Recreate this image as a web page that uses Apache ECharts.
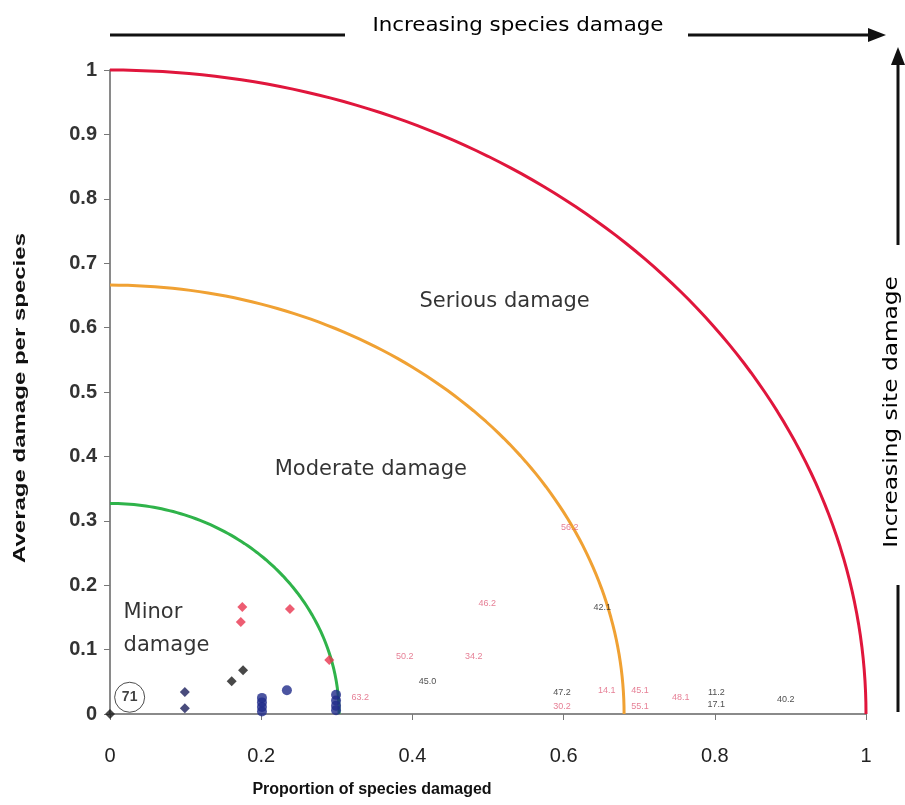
<!DOCTYPE html>
<html>
<head>
<meta charset="utf-8">
<script src="https://cdn.jsdelivr.net/npm/echarts@6/dist/echarts.min.js"></script>
<style>html,body{margin:0;padding:0;background:#fff}#c{width:905px;height:805px}</style>
</head>
<body>
<div id="c"></div>
<script>
// ---- data ----
const arcNames = ['Minor', 'Moderate', 'Serious'];
const arcRadiusX = [0.303, 0.68, 1.0];
const arcRadiusY = [0.327, 0.666, 1.0];
const arcColors = ['#2fb34a', '#f0a133', '#e0163c'];

const redPoints = [[0.175, 0.166], [0.173, 0.143], [0.238, 0.163], [0.29, 0.084]];
const blackPoints = [[0, 0], [0.161, 0.051], [0.176, 0.068]];
const navyPoints = [[0.099, 0.034], [0.099, 0.009]];
const bluePoints = [[0.201, 0.004], [0.201, 0.011], [0.201, 0.018], [0.201, 0.025],
  [0.234, 0.037], [0.299, 0.006], [0.299, 0.013], [0.299, 0.021], [0.299, 0.03]];

const redLabels = [[0.331, 0.026, '63.2'], [0.39, 0.09, '50.2'], [0.481, 0.09, '34.2'],
  [0.499, 0.171, '46.2'], [0.608, 0.29, '56.2'], [0.598, 0.012, '30.2'],
  [0.657, 0.037, '14.1'], [0.701, 0.037, '45.1'], [0.701, 0.012, '55.1'], [0.755, 0.026, '48.1']];
const blackLabels = [[0.42, 0.051, '45.0'], [0.651, 0.166, '42.1'], [0.598, 0.034, '47.2'],
  [0.802, 0.034, '11.2'], [0.802, 0.014, '17.1'], [0.894, 0.022, '40.2']];
const circledLabel = [[0.026, 0.026, '71']];
const regionLabels = [[0.522, 0.64, 'Serious damage'], [0.345, 0.379, 'Moderate damage'],
  [0.018, 0.158, 'Minor'], [0.018, 0.106, 'damage']];

// ---- build ----
function arc(rx, ry) {
  const pts = [];
  for (let i = 0; i <= 90; i++) {
    const a = i * Math.PI / 180;
    pts.push([rx * Math.cos(a), ry * Math.sin(a)]);
  }
  return pts;
}

const series = [];
arcNames.forEach((n, i) => {
  series.push({
    type: 'line', name: n, data: arc(arcRadiusX[i], arcRadiusY[i]),
    showSymbol: false, smooth: false, clip: false,
    lineStyle: {color: arcColors[i], width: 3}, z: 2
  });
});
function scat(data, symbol, color, size) {
  return {type: 'scatter', data: data, symbol: symbol, symbolSize: size, clip: false,
    itemStyle: {color: color}, z: 5};
}
series.push(scat(redPoints, 'diamond', '#e8344f', 10));
series.push(scat(blackPoints, 'diamond', '#1a1a1a', 10));
series.push(scat(navyPoints, 'diamond', '#1b1f5c', 10));
series.push(scat(bluePoints, 'circle', '#1f2a8a', 10));

function textSeries(data, color, size, weight, align, family) {
  return {
    type: 'scatter', data: data.map(d => ({value: [d[0], d[1]], name: d[2]})),
    symbolSize: 0, clip: false, z: 6,
    label: {show: true, position: 'inside', formatter: p => p.name, color: color,
      fontSize: size, fontWeight: weight, fontFamily: family || 'Liberation Sans, Arial', align: align || 'center'}
  };
}
series.push(textSeries(redLabels, '#e0607c', 9, 'normal'));
series.push(textSeries(blackLabels, '#222', 9, 'normal'));
series.push(textSeries(regionLabels.slice(0, 2), '#000', 21, 'normal', 'center', 'DejaVu Sans'));
series.push(textSeries(regionLabels.slice(2), '#000', 21, 'normal', 'left', 'DejaVu Sans'));
series.push({
  type: 'scatter', data: circledLabel.map(d => ({value: [d[0], d[1]], name: d[2]})),
  symbol: 'circle', symbolSize: 30, clip: false, z: 6,
  itemStyle: {color: 'transparent', borderColor: '#222', borderWidth: 1},
  label: {show: true, position: 'inside', formatter: p => p.name, color: '#111',
    fontSize: 14, fontWeight: 'bold', fontFamily: 'Liberation Sans, Arial'}
});

const chart = echarts.init(document.getElementById('c'));
chart.setOption({
  animation: false,
  backgroundColor: '#fff',
  grid: {left: 110, right: 39, top: 70, bottom: 91, containLabel: false},
  xAxis: {
    type: 'value', min: 0, max: 1, interval: 0.2,
    axisLine: {show: true, onZero: false, lineStyle: {color: '#8a8a8a', width: 2}},
    axisTick: {show: true, length: 6, lineStyle: {color: '#777'}},
    splitLine: {show: false},
    axisLabel: {color: '#222', fontSize: 20, margin: 32, fontFamily: 'Liberation Sans, Arial',
      formatter: v => String(+v.toFixed(1))}
  },
  yAxis: {
    type: 'value', min: 0, max: 1, interval: 0.1,
    axisLine: {show: true, onZero: false, lineStyle: {color: '#8a8a8a', width: 2}},
    axisTick: {show: true, length: 6, lineStyle: {color: '#777'}},
    splitLine: {show: false},
    axisLabel: {color: '#333', fontSize: 20, fontWeight: 'bold', margin: 13, fontFamily: 'Liberation Sans, Arial',
      formatter: v => String(+v.toFixed(1))}
  },
  series: series,
  graphic: [
    {type: 'text', x: 21, y: 398, rotation: Math.PI / 2, scaleX: 1.5,
      style: {text: 'Average damage per species', font: 'bold 16px "Liberation Sans", Arial', fill: '#111',
        textAlign: 'center', textVerticalAlign: 'middle'}},
    {type: 'text', x: 372, y: 790,
      style: {text: 'Proportion of species damaged', font: 'bold 16px "Liberation Sans", Arial', fill: '#111',
        textAlign: 'center', textVerticalAlign: 'middle'}},
    {type: 'line', shape: {x1: 110, y1: 35, x2: 345, y2: 35}, style: {stroke: '#111', lineWidth: 3}},
    {type: 'text', x: 518, y: 26, scaleX: 1.25,
      style: {text: 'Increasing species damage', font: '19px "DejaVu Sans Condensed", "DejaVu Sans"', fill: '#000',
        textAlign: 'center', textVerticalAlign: 'middle'}},
    {type: 'line', shape: {x1: 688, y1: 35, x2: 872, y2: 35}, style: {stroke: '#111', lineWidth: 3}},
    {type: 'polygon', shape: {points: [[886, 35], [868, 28], [868, 42]]}, style: {fill: '#111'}},
    {type: 'line', shape: {x1: 898, y1: 245, x2: 898, y2: 62}, style: {stroke: '#111', lineWidth: 3}},
    {type: 'polygon', shape: {points: [[898, 47], [891, 65], [905, 65]]}, style: {fill: '#111'}},
    {type: 'text', x: 892, y: 412, rotation: Math.PI / 2, scaleX: 1.36,
      style: {text: 'Increasing site damage', font: '19px "DejaVu Sans Condensed", "DejaVu Sans"', fill: '#000',
        textAlign: 'center', textVerticalAlign: 'middle'}},
    {type: 'line', shape: {x1: 898, y1: 585, x2: 898, y2: 712}, style: {stroke: '#111', lineWidth: 3}}
  ]
});
</script>
</body>
</html>
